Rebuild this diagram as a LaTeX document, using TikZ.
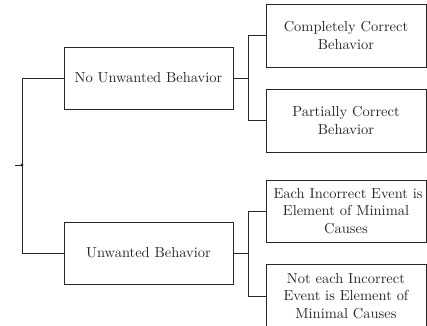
\documentclass[tikz,border=0pt]{standalone}
\begin{document}
\begin{tikzpicture}[x=0.69pt,y=-0.69pt,
  every node/.style={font=\fontsize{10}{12.1}\selectfont, text=black!85},
  boxnode/.style={draw=black!85, line width=0.62pt, rectangle, inner sep=0pt, align=center},
  conn/.style={draw=black!85, line width=0.62pt}]
\useasboundingbox (0,0) rectangle (427,326);
\clip (0,0) rectangle (427,326);
\node[boxnode, minimum width=116.6pt, minimum height=42.8pt] (nub) at (148.5,78) {No Unwanted Behavior};
\node[boxnode, minimum width=116.6pt, minimum height=42.8pt] (ub) at (148.5,253) {Unwanted Behavior};
\node[boxnode, minimum width=110.4pt, minimum height=43.5pt, text width=100pt] (ccb) at (346,35.5) {Completely Correct\\Behavior};
\node[boxnode, minimum width=110.4pt, minimum height=43.5pt, text width=100pt] (pcb) at (346,120.5) {Partially Correct\\Behavior};
\node[boxnode, minimum width=110.4pt, minimum height=42.8pt, text width=100pt] (eie) at (346,211) {\mbox{Each Incorrect Event is}\\Element of Minimal\\Causes};
\node[boxnode, minimum width=110.4pt, minimum height=44.2pt, text width=100pt] (neie) at (346,296) {Not each Incorrect\\Event is Element of\\Minimal Causes};
\coordinate (root) at (22,165);
\coordinate (stub) at (15,165);
\draw[conn] (stub) -- (root);
\fill[black!85] (root) circle (1.1pt);
\draw[conn] (root) |- (nub.west);
\draw[conn] (root) |- (ub.west);
\draw[conn] (nub.east) -- ++(15.5,0) coordinate (j1);
\draw[conn] (j1) |- (ccb.west);
\draw[conn] (j1) |- (pcb.west);
\draw[conn] (ub.east) -- ++(15.5,0) coordinate (j2);
\draw[conn] (j2) |- (eie.west);
\draw[conn] (j2) |- (neie.west);
\end{tikzpicture}
\end{document}
